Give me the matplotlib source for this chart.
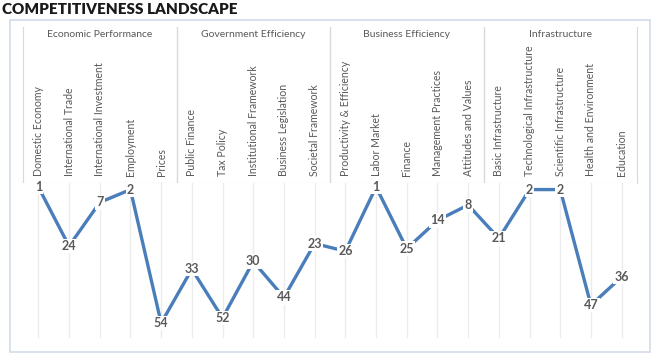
import matplotlib.pyplot as plt
from matplotlib.patches import Rectangle

groups = ["Economic Performance", "Government Efficiency", "Business Efficiency", "Infrastructure"]
factors = ["Domestic Economy", "International Trade", "International Investment", "Employment", "Prices",
           "Public Finance", "Tax Policy", "Institutional Framework", "Business Legislation", "Societal Framework",
           "Productivity & Efficiency", "Labor Market", "Finance", "Management Practices", "Attitudes and Values",
           "Basic Infrastructure", "Technological Infrastructure", "Scientific Infrastructure",
           "Health and Environment", "Education"]
ranks = [1, 24, 7, 2, 54, 33, 52, 30, 44, 23, 26, 1, 25, 14, 8, 21, 2, 2, 47, 36]

plt.rcParams['font.family'] = ['Lato', 'DejaVu Sans']

W, H = 660, 363
fig = plt.figure(figsize=(6.6, 3.63), dpi=100)

def box(x0, y0, x1, y1):
    # pixel box (top-left origin) -> figure rect
    return [x0 / W, 1 - y1 / H, (x1 - x0) / W, (y1 - y0) / H]

# outer frame
fig.patches.append(Rectangle((10 / W, 1 - 352 / H), 640 / W, 332 / H, transform=fig.transFigure,
                             fill=False, edgecolor='#d3dcea', linewidth=1.2))
fig.text(2 / W, 1 - 10 / H, "COMPETITIVENESS LANDSCAPE", fontsize=11, fontweight='heavy',
         color='#1a1a1a', va='center', ha='left')

n = len(factors)
x = list(range(n))

# header table
hx = fig.add_axes(box(23, 27, 637, 183))
hx.set_xlim(-0.5, n - 0.5)
hx.set_ylim(0, 1)
hx.set_xticks([])
hx.set_yticks([])
for s in hx.spines.values():
    s.set_color('#d9d9d9')
hx.spines['top'].set_visible(False)
for k in range(1, len(groups)):
    hx.axvline(5 * k - 0.5, color='#d9d9d9', linewidth=1)
for k, g in enumerate(groups):
    hx.text(5 * k + 2, 0.955, g, ha='center', va='center', fontsize=7.5, color='#595959')
for i, f in enumerate(factors):
    hx.text(i, 0.045, f, rotation=90, ha='center', va='bottom', fontsize=7.6, color='#595959')

# line chart
ax = fig.add_axes(box(23, 183, 637, 338))
ax.set_xlim(-0.5, n - 0.5)
ax.set_ylim(59.8, -0.56)
for s in ax.spines.values():
    s.set_visible(False)
ax.set_xticks(x)
ax.set_xticklabels([])
ax.set_yticks([])
ax.tick_params(length=0)
ax.grid(axis='x', color='#ececec', linewidth=1)
ax.plot(x, ranks, color='#4a7ebb', linewidth=2.4, zorder=2)
for i, r in enumerate(ranks):
    ax.text(i, r, str(r), ha='center', va='center', fontsize=9, fontweight='bold', color='#595959',
            zorder=3, bbox=dict(boxstyle='square,pad=0.1', facecolor='white', edgecolor='none'))

fig.savefig("out.png", dpi=100)
